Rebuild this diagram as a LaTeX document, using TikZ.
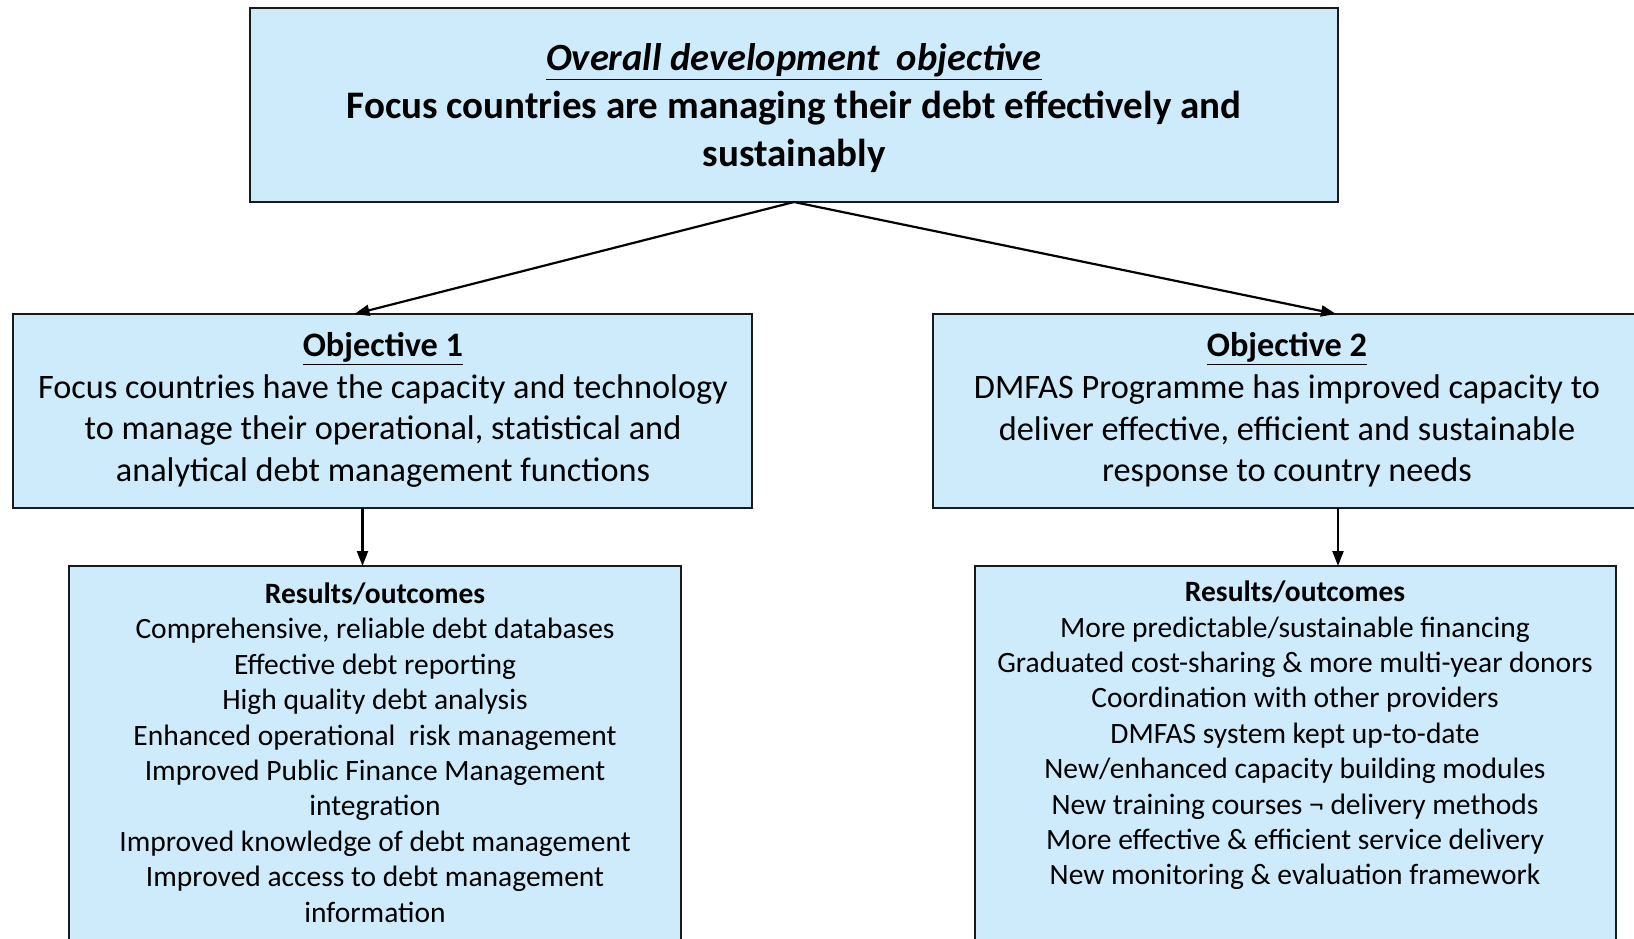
\documentclass[tikz,border=0pt]{standalone}
\usepackage{fontspec}
\setmainfont{Carlito}
\usetikzlibrary{arrows.meta}
\definecolor{boxfill}{HTML}{CDEBFB}
\definecolor{boxline}{HTML}{1A1A1A}
\begin{document}
\begin{tikzpicture}[x=1pt,y=-1pt,
  panel/.style={draw=boxline,line width=2pt,fill=boxfill,anchor=north west,inner sep=0pt,outer sep=0pt},
  txt/.style={align=center,inner sep=0pt,text=black},
  arr/.style={draw=black,line width=2.2pt,-{Triangle[length=15pt,width=11pt]}}]
\useasboundingbox (0,0) rectangle (1634,938);
\clip (0,0) rectangle (1634,938);
\fill[white] (0,0) rectangle (1634,938);

% boxes
\node[panel,minimum width=1088pt,minimum height=194pt] (top) at (250,8) {};
\node[panel,minimum width=739pt,minimum height=194pt] (o1) at (13,314) {};
\node[panel,minimum width=708pt,minimum height=194pt] (o2) at (933,314) {};
\node[panel,minimum width=612pt,minimum height=420pt] (r1) at (69,566) {};
\node[panel,minimum width=641pt,minimum height=420pt] (r2) at (975,566) {};

% texts
\node[txt,font=\fontsize{39}{48}\selectfont\bfseries] (toptext) at (794,108.5)
  {{\fontsize{38.5}{48}\selectfont\textit{\underline{Overall development\ \ objective}}}\\
   Focus countries are managing their debt effectively and\\
   sustainably};
\node[txt,font=\fontsize{34.3}{41.7}\selectfont] (o1text) at (383,410)
  {\textbf{\underline{Objective 1}}\\
   Focus countries have the capacity and technology\\
   to manage their operational, statistical and\\
   analytical debt management functions};
\node[txt,font=\fontsize{34.3}{41.7}\selectfont] (o2text) at (1287,410)
  {\textbf{\underline{Objective 2}}\\
   DMFAS Programme has improved capacity to\\
   deliver effective, efficient and sustainable\\
   response to country needs};
\node[txt,font=\fontsize{29.5}{35.4}\selectfont] (r1text) at (375,752.5)
  {\textbf{Results/outcomes}\\
   Comprehensive, reliable debt databases\\
   Effective debt reporting\\
   High quality debt analysis\\
   Enhanced operational\ \ risk management\\
   Improved Public Finance Management\\
   integration\\
   Improved knowledge of debt management\\
   Improved access to debt management\\
   information};
\node[txt,font=\fontsize{29.5}{35.4}\selectfont] (r2text) at (1295,735.5)
  {\textbf{Results/outcomes}\\
   More predictable/sustainable financing\\
   Graduated cost-sharing \& more multi-year donors\\
   Coordination with other providers\\
   DMFAS system kept up-to-date\\
   New/enhanced capacity building modules\\
   New training courses ¬ delivery methods\\
   More effective \& efficient service delivery\\
   New monitoring \& evaluation framework};

% connectors
\draw[arr] (top.south) -- ([xshift=-28pt]o1.north);
\draw[arr] (top.south) -- ([xshift=49pt]o2.north);
\draw[arr] ([xshift=-20pt]o1.south) -- ([xshift=-20pt]o1.south |- r1.north);
\draw[arr] ([xshift=51pt]o2.south) -- ([xshift=51pt]o2.south |- r2.north);
\end{tikzpicture}
\end{document}
